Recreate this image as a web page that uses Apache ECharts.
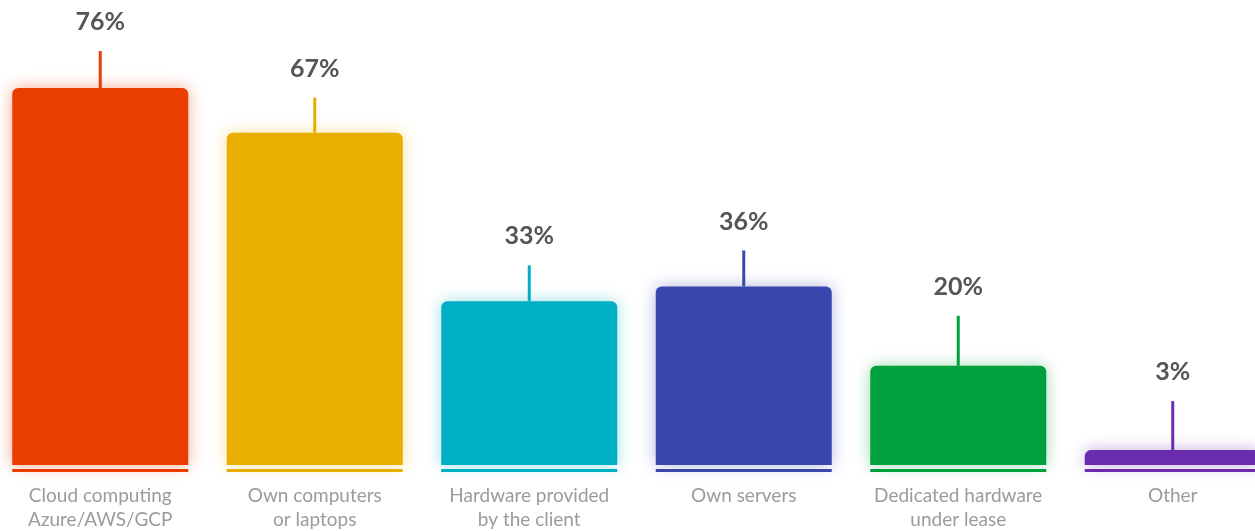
<!DOCTYPE html>
<html><head><meta charset="utf-8">
<script src="https://cdn.jsdelivr.net/npm/echarts@6/dist/echarts.min.js"></script>
<style>html,body{margin:0;padding:0;background:#fff}#c{width:1255px;height:531px}</style>
</head><body><div id="c"></div>
<script>
const categories = ['Cloud computing\nAzure/AWS/GCP','Own computers\nor laptops','Hardware provided\nby the client','Own servers','Dedicated hardware\nunder lease','Other'];
const values = [76, 67, 33, 36, 20, 3];
const valueLabels = ['76%','67%','33%','36%','20%','3%'];
const colors = ['#EA3D00','#E8AE00','#00AEC6','#3A48AE','#00A03D','#6A2DAF'];
const glow = ['rgba(234,61,0,0.45)','rgba(232,174,0,0.4)','rgba(0,174,198,0.4)','rgba(58,72,174,0.4)','rgba(0,160,61,0.4)','rgba(106,45,175,0.4)'];
const stickLen = [37,35,36,36,50,49];
const BAR_W = 176;

const chart = echarts.init(document.getElementById('c'));
chart.setOption({
  animation:false,
  grid:{left:-7, right:-25, top:18.6, bottom:66, outerBoundsMode:'none', containLabel:false},
  xAxis:{type:'category', data:categories, axisLine:{show:false}, axisTick:{show:false},
    axisLabel:{interval:0, color:'#9b9b9b', fontFamily:'Lato', fontSize:19, lineHeight:24, margin:19}},
  yAxis:{type:'value', min:0, max:90, show:false, splitLine:{show:false}},
  series:[
    {type:'bar', barWidth:BAR_W,
     data: values.map((v,i)=>({value:v, itemStyle:{color:colors[i], borderRadius:[6,6,0,0], shadowBlur:16, shadowColor:glow[i]}})),
     z:2},
    {type:'custom', z:3,
     data: values.map((v,i)=>[i,v]),
     renderItem:function(params, api){
       const i = api.value(0);
       const top = api.coord([i, api.value(1)]);
       const base = api.coord([i, 0]);
       const L = stickLen[i];
       const c = colors[i];
       return {type:'group', children:[
         {type:'rect', shape:{x:base[0]-BAR_W/2, y:base[1]+4, width:BAR_W, height:3}, style:{fill:c}},
         {type:'line', shape:{x1:top[0], y1:top[1], x2:top[0], y2:top[1]-L}, style:{stroke:c, lineWidth:3}},
         {type:'text', x:top[0], y:top[1]-L-29, style:{text:valueLabels[i], fill:'#555', font:'bold 25px Lato', align:'center', verticalAlign:'middle'}}
       ]};
     }}
  ]
});
</script></body></html>
